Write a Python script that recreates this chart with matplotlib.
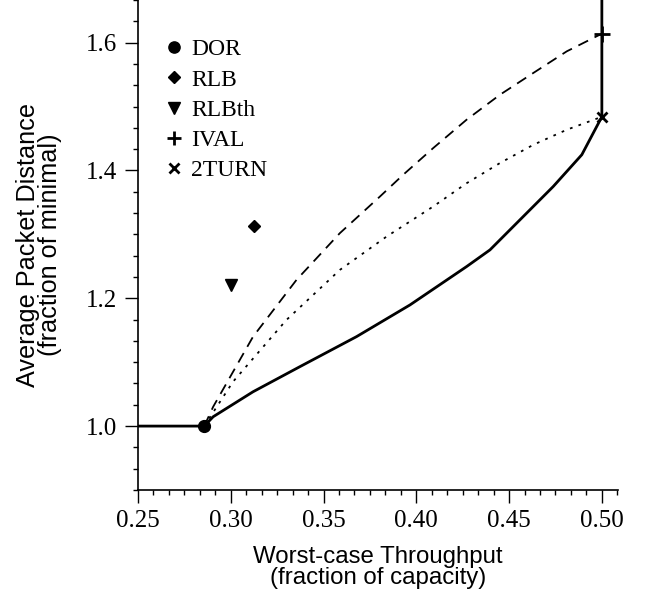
import matplotlib
matplotlib.use("Agg")
import matplotlib.pyplot as plt
from matplotlib.ticker import MultipleLocator
from matplotlib.lines import Line2D

# Pareto / tradeoff curve (solid)
solid_x = [0.25, 0.2857, 0.2905, 0.312, 0.3372, 0.3678, 0.3966, 0.4271, 0.4397,
           0.4541, 0.4738, 0.4892, 0.5, 0.5]
solid_y = [1.0, 1.0, 1.0146, 1.0537, 1.0929, 1.140, 1.1896, 1.2496, 1.2757,
           1.3176, 1.3749, 1.4246, 1.484, 1.75]

# DOR -> IVAL blend (dashed)
dash_x = [0.2857, 0.2905, 0.3120, 0.3354, 0.3588, 0.3804, 0.3929, 0.4091, 0.4271,
          0.4451, 0.4631, 0.4811, 0.5]
dash_y = [1.0, 1.0302, 1.1399, 1.2287, 1.3019, 1.3592, 1.3932, 1.435, 1.4794,
          1.5185, 1.5526, 1.5864, 1.614]

# DOR -> 2TURN blend (dotted)
dot_x = [0.2857, 0.3012, 0.3300, 0.3588, 0.3840, 0.3965, 0.4091, 0.4271, 0.4451,
         0.4631, 0.4811, 0.5]
dot_y = [1.0, 1.0694, 1.1661, 1.2444, 1.2966, 1.320, 1.3436, 1.380, 1.4116,
         1.4402, 1.4637, 1.484]

# Algorithms
alg_names = ["DOR", "RLB", "RLBth", "IVAL", "2TURN"]
alg_x = [0.2857, 0.3125, 0.30, 0.5, 0.5]
alg_y = [1.0, 1.313, 1.221, 1.614, 1.484]
alg_markers = ["o", "D", "v", "+", "x"]
alg_sizes = [8.5, 6, 9, 11, 7]

xticks = [0.25, 0.30, 0.35, 0.40, 0.45, 0.50]
yticks = [1.0, 1.2, 1.4, 1.6]

serif = ["Liberation Serif", "DejaVu Serif"]
sans = ["Liberation Sans", "DejaVu Sans"]

fig = plt.figure(figsize=(6.46, 6.0), dpi=100)
ax = fig.add_axes([138 / 646, 1 - 490 / 600, (618 - 138) / 646, 490 / 600])

ax.plot(solid_x, solid_y, color="black", lw=2.0, solid_joinstyle="miter", zorder=3)
ax.plot(dash_x, dash_y, color="black", lw=1.3, dashes=(6, 4), zorder=2)
ax.plot(dot_x, dot_y, color="black", lw=1.3, dashes=(1.5, 3.5), zorder=2)

handles = []
for n, x, y, m, s in zip(alg_names, alg_x, alg_y, alg_markers, alg_sizes):
    ax.plot([x], [y], linestyle="none", marker=m, markersize=s, color="black",
            markeredgewidth=2.0 if m in "+x" else 1.0, zorder=4, clip_on=False)
    handles.append(Line2D([], [], linestyle="none", marker=m, color="black",
                          markersize=s * 0.95, markeredgewidth=2.0 if m in "+x" else 1.0,
                          label=n))

leg = ax.legend(handles=handles, loc="upper left", bbox_to_anchor=(0.036, 0.940),
                frameon=False, handlelength=0.8, handletextpad=0.32,
                labelspacing=0.37, borderaxespad=0,
                prop={"family": serif, "size": 17})

ax.set_xlim(0.25, 0.5087)
ax.set_ylim(0.9, 1.6667)
ax.set_xticks(xticks)
ax.set_yticks(yticks)
ax.set_xticklabels([f"{v:.2f}" for v in xticks], family=serif, fontsize=18)
ax.set_yticklabels([f"{v:.1f}" for v in yticks], family=serif, fontsize=18)
ax.xaxis.set_minor_locator(MultipleLocator(0.05 / 6))
ax.yaxis.set_minor_locator(MultipleLocator(0.2 / 6))
ax.tick_params(which="major", direction="out", length=9.5, width=1.0)
ax.tick_params(axis="x", which="major", pad=5)
ax.tick_params(axis="y", which="major", pad=5.5)
ax.tick_params(which="minor", direction="out", length=3.8, width=1.0)

for s in ["top", "right"]:
    ax.spines[s].set_visible(False)
for s in ["left", "bottom"]:
    ax.spines[s].set_linewidth(1.2)

ax.set_xlabel("Worst-case Throughput\n(fraction of capacity)", family=sans,
              fontsize=17.3, labelpad=10, linespacing=0.95)
ax.set_ylabel("Average Packet Distance\n(fraction of minimal)", family=sans,
              fontsize=18.2, labelpad=17, linespacing=0.9)

fig.savefig("out.png", dpi=100)
